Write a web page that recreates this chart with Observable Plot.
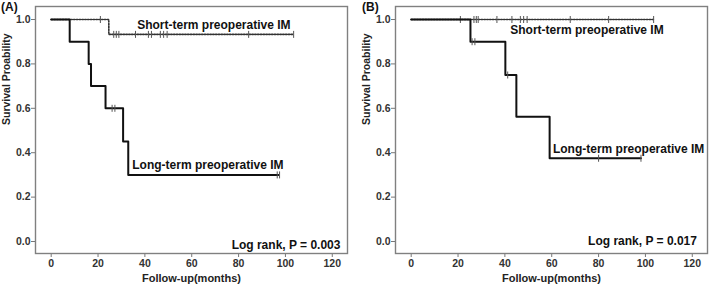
<!DOCTYPE html>
<html><head><meta charset="utf-8">
<script src="https://cdn.jsdelivr.net/npm/d3@7"></script>
<script src="https://cdn.jsdelivr.net/npm/@observablehq/plot@0.6"></script>
<style>
body{margin:0;background:#fff;}
#wrap{position:relative;width:709px;height:289px;overflow:hidden;font-family:"Liberation Sans",Arial,sans-serif;}
.panel{position:absolute;top:0;}
.tag{position:absolute;top:0;font:bold 12px "Liberation Sans",Arial,sans-serif;line-height:14px;color:#111;}
</style></head><body>
<div id="wrap"><div class="tag" style="left:1px">(A)</div><div class="tag" style="left:362px">(B)</div></div>
<script>
// axis ticks
const xTicks = [0, 20, 40, 60, 80, 100, 120];
const yTicks = [0, 0.2, 0.4, 0.6, 0.8, 1.0];
const xLabel = "Follow-up(months)";
const yLabel = "Survival Proability";
const shortName = "Short-term preoperative IM";
const longName = "Long-term preoperative IM";

// Panel A: Kaplan-Meier steps (time, survival) and censor times
const aLongTimes = [0, 7.9, 16, 17, 23.2, 30.7, 32.9, 97];
const aLongSurv  = [1, 0.9, 0.8, 0.7, 0.6, 0.45, 0.3, 0.3];
const aLongCens  = [26, 27.2, 96.5, 97.5];
const aShortTimes = [0, 24.6, 103.5];
const aShortSurv  = [1, 0.933, 0.933];
const aShortCens  = [21, 26.7, 27.8, 28.9, 36, 41.5, 42.8, 46.6, 48, 49.5, 84.3, 103.5];
const aPText = "Log rank, P = 0.003";

// Panel B
const bLongTimes = [0, 25.3, 40.2, 44.9, 59.1, 98.1];
const bLongSurv  = [1, 0.9, 0.75, 0.5625, 0.375, 0.375];
const bLongCens  = [26, 27.2, 41.2, 80, 98.1];
const bShortTimes = [0, 103.5];
const bShortSurv  = [1, 1];
const bShortCens  = [21, 26.8, 27.8, 28.6, 36.6, 43, 46.6, 48, 49.5, 67.9, 84.3, 103.5];
const bPText = "Log rank, P = 0.017";

const xDomain = [-6.7, 126.5];
const yDomain = [-0.054, 1.0586];

const toPts = (t, s) => t.map((d, i) => ({t: d, s: s[i]}));
const survAt = (t, s) => c => { let v = s[0]; for (let i = 0; i < t.length; i++) if (t[i] <= c) v = s[i]; return v; };
const cens = (times, t, s) => times.map(c => ({t: c, s: survAt(t, s)(c)}));

const tickSym = {draw(ctx, size){ const r = Math.sqrt(size/Math.PI); ctx.moveTo(0,-r); ctx.lineTo(0,r); }};

function panel(cfg){
  const short = toPts(cfg.shortT, cfg.shortS);
  const long = toPts(cfg.longT, cfg.longS);
  return Plot.plot({
    width: cfg.width, height: 289,
    marginLeft: cfg.ml, marginRight: cfg.mr, marginTop: 6, marginBottom: 36,
    x: {domain: xDomain},
    y: {domain: yDomain},
    style: {fontFamily: '"Liberation Sans", Arial, sans-serif', background: "white", overflow: "visible"},
    marks: [
      Plot.axisX({ticks: xTicks, tickSize: 4, tickPadding: 2, tickFormat: d => String(d), label: null, fontSize: 10.5, fontWeight: "bold", fill: "#333", stroke: "#777"}),
      Plot.axisY({ticks: yTicks, tickSize: 4, tickPadding: 1, tickFormat: d => d.toFixed(1), label: null, fontSize: 10.5, fontWeight: "bold", fill: "#333", stroke: "#777"}),
      Plot.line(short, {x: "t", y: "s", curve: "step-after", stroke: "#333", strokeWidth: 1.6, strokeDasharray: "1.4,1.4"}),
      Plot.dot(cens(cfg.shortC, cfg.shortT, cfg.shortS), {x: "t", y: "s", symbol: tickSym, r: 3.5, stroke: "#555", strokeWidth: 1, fill: "none"}),
      Plot.line(long, {x: "t", y: "s", curve: "step-after", stroke: "#111", strokeWidth: 2}),
      Plot.dot(cens(cfg.longC, cfg.longT, cfg.longS), {x: "t", y: "s", symbol: tickSym, r: 3.5, stroke: "#555", strokeWidth: 1, fill: "none"}),
      Plot.text([shortName], {text: d => d, x: cfg.shortLab[0], y: cfg.shortLab[1], textAnchor: "start", fontSize: 12, fontWeight: "bold", fill: "#111"}),
      Plot.text([longName], {text: d => d, x: cfg.longLab[0], y: cfg.longLab[1], textAnchor: "start", fontSize: 12, fontWeight: "bold", fill: "#111"}),
      Plot.text([cfg.p], {text: d => d, x: cfg.pLab[0], y: cfg.pLab[1], textAnchor: "end", fontSize: 12, fontWeight: "bold", fill: "#111"}),
      Plot.text([xLabel], {text: d => d, frameAnchor: "bottom", dy: 28, fontSize: 11, fontWeight: "bold", fill: "#222"}),
      Plot.text([yLabel], {text: d => d, frameAnchor: "left", rotate: -90, dx: -29, dy: -5, fontSize: 10.5, fontWeight: "bold", fill: "#222"}),
      Plot.frame({stroke: "#808080", strokeWidth: 1.4})
    ]
  });
}

const wrap = document.getElementById("wrap");
const A = panel({width: 354, ml: 35, mr: 7,
  shortT: aShortTimes, shortS: aShortSurv, shortC: aShortCens,
  longT: aLongTimes, longS: aLongSurv, longC: aLongCens,
  shortLab: [36.7, 0.973], longLab: [34.6, 0.342], p: aPText, pLab: [123.5, -0.015]});
A.classList.add("panel"); A.style.left = "0px";
const B = panel({width: 355, ml: 41, mr: 2,
  shortT: bShortTimes, shortS: bShortSurv, shortC: bShortCens,
  longT: bLongTimes, longS: bLongSurv, longC: bLongCens,
  shortLab: [42.3, 0.95], longLab: [60.5, 0.417], p: bPText, pLab: [122, 0]});
B.classList.add("panel"); B.style.left = "354px";
wrap.insertBefore(A, wrap.firstChild);
wrap.insertBefore(B, wrap.firstChild);
</script>
</body></html>
